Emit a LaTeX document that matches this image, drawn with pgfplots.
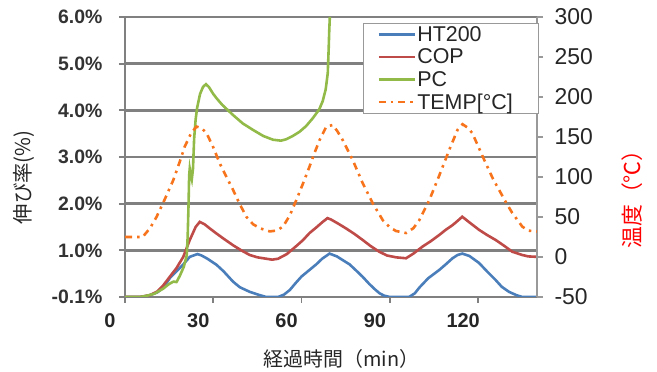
\documentclass[border=0pt]{standalone}
\usepackage{pgfplots}
\pgfplotsset{compat=1.18}
\usepackage{fontspec}
\setmainfont{Liberation Sans}
\newfontfamily\cjk{Noto Sans CJK JP}
\definecolor{cHT}{RGB}{74,126,187}
\definecolor{cCOP}{RGB}{190,75,72}
\definecolor{cPC}{RGB}{146,186,72}
\definecolor{cTEMP}{RGB}{247,116,28}
\definecolor{cGrid}{RGB}{128,128,128}
\begin{document}
\begin{tikzpicture}
\useasboundingbox (0,0) rectangle (657bp,372bp);
\begin{axis}[
  at={(125bp,75bp)}, anchor=south west,
  scale only axis, width=412bp, height=280bp,
  xmin=0, xmax=140, ymin=0, ymax=6,
  axis x line*=bottom, axis y line*=left,
  axis line style={draw=cGrid, line width=2.5bp},
  tick style={draw=cGrid, line width=1.8bp},
  major tick length=6bp, tick align=outside,
  xtick={0,30,60,90,120}, xticklabels={0,30,60,90,120},
  ytick={0,1,2,3,4,5,6},
  yticklabels={-0.1\%,1.0\%,2.0\%,3.0\%,4.0\%,5.0\%,6.0\%},
  xticklabel style={font=\fontsize{20}{22}\selectfont\bfseries, text=black!85, xshift=-15bp, yshift=-7bp},
  yticklabel style={font=\fontsize{19.5}{22}\selectfont\bfseries, text=black!80, xshift=-13bp},
  ymajorgrids, grid style={draw=cGrid, line width=2.5bp},
  xlabel={\cjk 経過時間（min）},
  xlabel style={at={(axis description cs:0.526,-0.222)}, anchor=center, font=\fontsize{20}{22}\selectfont, text=black!85},
  ylabel={\cjk 伸び率(\%)},
  ylabel style={at={(axis description cs:-0.245,0.427)}, anchor=center, font=\fontsize{20.5}{22}\selectfont, text=black!85},
  clip=true,
]
\addplot[color=cHT, line width=2.6bp] coordinates {
(0,0)(5,0)(8,0.03)(11,0.1)(13,0.2)(15.3,0.41)(17.5,0.55)(19.7,0.69)(22,0.86)(24.6,0.92)(26,0.89)(28,0.82)(31.1,0.69)(33.5,0.55)(36.7,0.33)(39,0.21)(42.4,0.11)(45.8,0.04)(48,0)(52,0)(54,0.05)(56,0.15)(58,0.3)(60,0.44)(62.7,0.58)(65,0.7)(67,0.82)(69.5,0.93)(72,0.87)(74,0.79)(76.3,0.7)(78.5,0.57)(80.8,0.43)(83,0.28)(85,0.16)(86.5,0.08)(88,0.03)(90,0)(96.5,0)(98.5,0.08)(100,0.2)(103,0.4)(106.8,0.58)(109,0.7)(111.3,0.83)(113,0.9)(114.6,0.93)(117,0.88)(120.3,0.73)(123,0.55)(126,0.36)(128,0.22)(130.5,0.11)(133,0.04)(135,0)(140,0)
};
\addplot[color=cCOP, line width=2.6bp] coordinates {
(0,0)(5,0)(8.5,0.04)(11,0.12)(13,0.25)(15.3,0.44)(17.5,0.62)(19.8,0.86)(22,1.22)(24,1.5)(25.4,1.61)(27,1.56)(29,1.46)(31.1,1.36)(33.5,1.25)(36.7,1.11)(39.5,1.0)(42.4,0.9)(45,0.85)(48,0.82)(50,0.8)(52,0.82)(55,0.92)(58,1.08)(60.5,1.22)(62.7,1.37)(65,1.49)(67,1.6)(68.8,1.69)(70,1.66)(72.5,1.57)(75.1,1.47)(78,1.35)(80.8,1.22)(83.5,1.09)(86.4,0.97)(89,0.89)(92.1,0.85)(95.5,0.83)(98,0.93)(101.1,1.08)(104,1.2)(106.8,1.33)(109,1.44)(111.3,1.54)(113,1.63)(114.6,1.72)(117,1.6)(120.3,1.44)(123,1.33)(126,1.22)(129,1.09)(131.6,0.97)(135,0.9)(137,0.87)(140,0.86)
};
\addplot[color=cPC, line width=2.6bp] coordinates {
(0,0)(5,0)(7,0.02)(10,0.07)(13,0.18)(15,0.28)(16.5,0.33)(17.5,0.32)(18.6,0.45)(20,0.65)(21,0.9)(21.3,1.3)(21.6,2.0)(21.8,2.6)(22,2.75)(22.4,2.6)(22.7,2.52)(23.1,2.75)(23.5,3.4)(24,3.8)(24.5,4.05)(25.5,4.35)(26.5,4.5)(27.5,4.56)(28.5,4.5)(30,4.35)(31.1,4.26)(33,4.12)(36.7,3.9)(40,3.72)(43.5,3.58)(47,3.45)(50.3,3.37)(53,3.35)(54.8,3.38)(57,3.45)(59.3,3.54)(61.5,3.66)(63.8,3.83)(66,4.02)(67.2,4.2)(68.2,4.45)(68.9,4.8)(69.2,5.3)(69.4,5.7)(69.6,6.0)
};
\end{axis}
\begin{axis}[
  at={(125bp,75bp)}, anchor=south west,
  scale only axis, width=412bp, height=280bp,
  xmin=0, xmax=140, ymin=-50, ymax=300,
  axis x line=none, axis y line*=right,
  axis line style={draw=cGrid!80, line width=1.5bp},
  tick style={draw=cGrid!80, line width=1.5bp},
  major tick length=6bp, tick align=outside,
  ytick={-50,0,50,100,150,200,250,300},
  yticklabels={-50,0,50,100,150,200,250,300},
  yticklabel style={font=\fontsize{23}{26}\selectfont, text=black!85, xshift=8bp},
  ylabel={\cjk 温度（℃）},
  ylabel style={at={(axis description cs:1.231,0.368)}, anchor=center, font=\fontsize{22}{24}\selectfont, text=red},
  legend style={at={(0.578,0.979)}, anchor=north west, draw=cGrid!80, line width=0.8bp, fill=white,
    font=\fontsize{21.5}{23}\selectfont, text=black!85, inner xsep=14bp, inner ysep=2bp, row sep=3.5bp,
    nodes={inner sep=1.2bp}},
  legend cell align=left,
  legend image code/.code={\draw[#1] (0bp,0bp) -- (36bp,0bp);},
]
\addlegendimage{color=cHT, line width=2.6bp}
\addlegendentry{HT200}
\addlegendimage{color=cCOP, line width=2.6bp}
\addlegendentry{COP}
\addlegendimage{color=cPC, line width=2.6bp}
\addlegendentry{PC}
\addplot[color=cTEMP, line width=2.6bp, dash pattern=on 7bp off 5bp on 2.5bp off 5bp] coordinates {
(0,25)(6,25)(8.5,36)(10.7,50)(13.5,72)(16.4,96)(18.5,118)(20.3,138)(22.5,155)(24.3,163)(26,161)(27.7,155)(30,137)(32.2,117)(34.5,100)(36.7,84)(39,66)(41.3,50)(43.5,41)(45.8,36)(49.2,32)(51.5,33)(53.7,38)(56,52)(58.2,71)(60.5,92)(62.7,113)(64.5,131)(66.1,146)(68.4,163)(70.6,165)(72.2,157)(74,146)(77.4,121)(80.8,92)(84.2,67)(87.6,46)(90,37)(92.1,32.5)(95.5,30)(98,36)(100,46)(103.4,71)(106.8,102)(110.2,134)(113,159)(114.7,166)(116.3,162)(118,155)(120.3,136)(122.6,117)(125,98)(127.1,84)(129.5,68)(131.6,55)(135,38)(137,33)(140,32)
};
\addlegendentry{TEMP[°C]\rule{10bp}{0pt}}
\end{axis}
\end{tikzpicture}
\end{document}
